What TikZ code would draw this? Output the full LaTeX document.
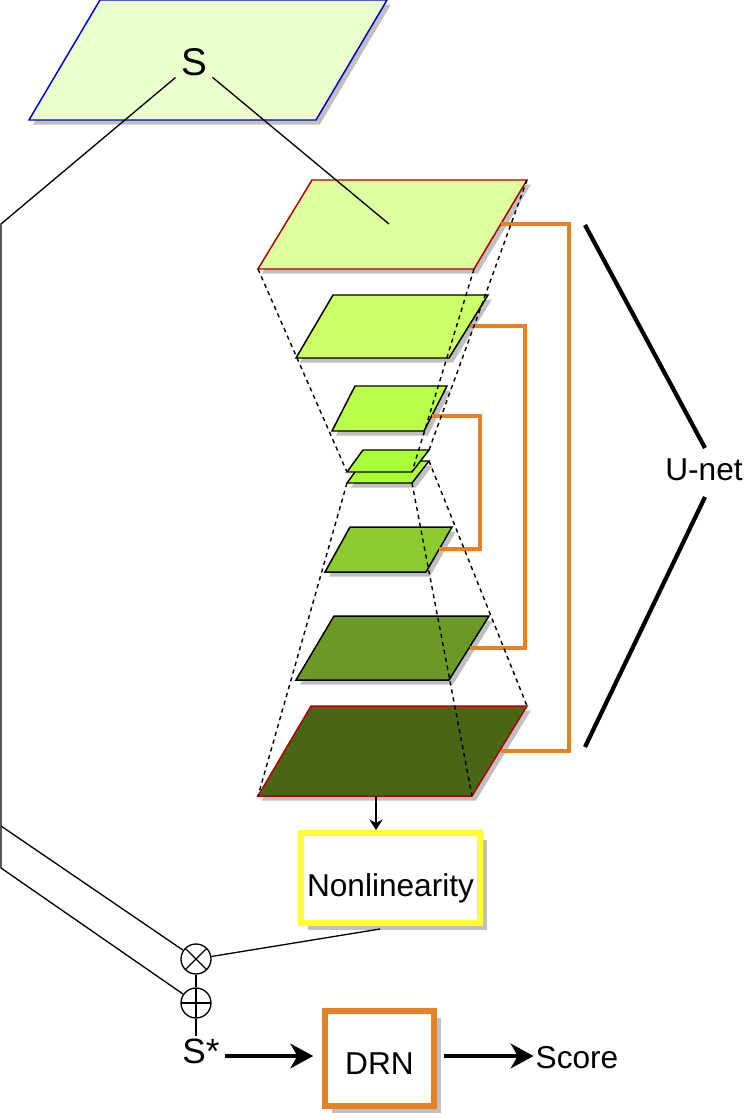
\documentclass[tikz,border=0pt]{standalone}
\usepackage{fontspec}
\setmainfont{Liberation Sans}
\usetikzlibrary{arrows.meta,positioning,calc,shadows}
\definecolor{skinorange}{HTML}{E68225}
\definecolor{boxyellow}{HTML}{FFFF33}
\definecolor{edgered}{HTML}{B20000}
\definecolor{edgeblue}{HTML}{0000CC}
\definecolor{shadowgray}{HTML}{C0C0C0}
\tikzset{
  softshadow/.style={drop shadow={shadow xshift=2.2pt,shadow yshift=-2.6pt,fill=shadowgray,opacity=1}},
  boxshadow/.style={drop shadow={shadow xshift=3.8pt,shadow yshift=-4pt,fill=shadowgray,opacity=1}},
  flatlayer/.style={draw=black,line width=0.85pt,line join=miter},
  layer/.style={flatlayer,softshadow},
  dashline/.style={line width=0.8pt,dash pattern=on 2.4pt off 2.2pt},
  skipline/.style={draw=skinorange,line width=2.6pt},
  braceline/.style={line width=2.4pt},
  thinline/.style={line width=0.75pt},
  bigarrow/.style={line width=2.6pt,-{Stealth[length=13pt,width=14pt,inset=4pt]}},
  opbox/.style={draw,fill=white,line width=3.4pt,boxshadow,font=\fontsize{18}{20}\selectfont},
  plainlabel/.style={inner sep=1pt,font=\fontsize{18}{20}\selectfont},
  bigletter/.style={inner sep=3pt,font=\fontsize{22}{24}\selectfont},
  opcircle/.style={circle,draw,line width=0.75pt,minimum size=0.6cm,inner sep=0pt}
}
\begin{document}
\begin{tikzpicture}[x=0.02cm,y=-0.02cm]
  \useasboundingbox (0,0) rectangle (750,1118);
  \draw[layer,draw=edgeblue,fill={rgb,255:red,235;green,255;blue,204}] (100,0) -- (387,0) -- (316,120) -- (29,120) -- cycle;
  \draw[layer,draw=edgered,fill={rgb,255:red,221;green,255;blue,159}] (312,180) -- (527,180) coordinate (c1) -- (474,269) coordinate (b1) -- (258,269) coordinate (a1) -- cycle;
  \draw[layer,fill={rgb,255:red,204;green,255;blue,102}] (333,295) -- (488,295) -- (449,358) -- (296,358) -- cycle;
  \draw[layer,fill={rgb,255:red,185;green,255;blue,76}] (355,386) -- (447,386) -- (424,431) -- (332,431) -- cycle;
  \draw[layer,fill={rgb,255:red,171;green,255;blue,54}] (363,461) -- (429,461) coordinate (c4) -- (412,483) coordinate (b4) -- (347,483) coordinate (a4) -- cycle;
  \draw[flatlayer,fill={rgb,255:red,171;green,255;blue,54}] (363,450) -- (429,450) coordinate (c5) -- (412,472) coordinate (b5) -- (347,472) coordinate (a5) -- cycle;
  \draw[layer,fill={rgb,255:red,140;green,204;blue,46}] (350,527) -- (452,527) -- (426,572) -- (325,572) -- cycle;
  \draw[layer,fill={rgb,255:red,108;green,153;blue,38}] (334,616) -- (489,616) -- (449,680) -- (296,680) -- cycle;
  \draw[layer,draw=edgered,fill={rgb,255:red,74;green,102;blue,21}] (311,706) -- (527,706) coordinate (c8) -- (472,796) coordinate (b8) -- (258,796) coordinate (a8) -- cycle;

  \coordinate (e1) at (501,224); \coordinate (e2) at (470,326); \coordinate (e3) at (432,416);
  \coordinate (e6) at (439,549); \coordinate (e7) at (470,648); \coordinate (e8) at (501,751);
  \draw[skipline] (e1) -- (569,224) -- (569,751) -- (e8);
  \draw[skipline] (e2) -- (525,326) -- (525,648) -- (e7);
  \draw[skipline] (e3) -- (480,416) -- (480,549) -- (e6);

  \draw[dashline] (a1) -- (a5); \draw[dashline] (b1) -- (b5); \draw[dashline] (c1) -- (c5);
  \draw[dashline] (a4) -- (a8); \draw[dashline] (b4) -- (b8); \draw[dashline] (c4) -- (c8);

  \node[bigletter] (S) at (194,62) {S};
  \coordinate (deep) at (389,224);
  \coordinate (bendtop) at (1,224); \coordinate (bendmid) at (1,826); \coordinate (bendlow) at (1,868);
  \node[opcircle,path picture={
    \draw[thinline] (path picture bounding box.north west) -- (path picture bounding box.south east);
    \draw[thinline] (path picture bounding box.north east) -- (path picture bounding box.south west);}] (times) at (196,959) {};
  \node[opcircle,path picture={
    \draw[thinline] (path picture bounding box.north) -- (path picture bounding box.south);
    \draw[thinline] (path picture bounding box.west) -- (path picture bounding box.east);}] (plus) at (196,1003) {};
  \node[plainlabel,font=\fontsize{20}{24}\selectfont] (sstar) at (201,1051) {S*};
  \node[opbox,draw=boxyellow,minimum width=3.58cm,minimum height=1.8cm] (nonlin) at (390.5,878) {\smash{\raisebox{-10.5pt}{Nonlinearity}}};
  \node[opbox,draw=skinorange,minimum width=2.18cm,minimum height=1.9cm] (drn) at (379.5,1058.5) {\smash{\raisebox{-9pt}{DRN}}};
  \node[plainlabel] (score) at (577,1058) {Score};
  \node[plainlabel] (unet) at (704,470) {U-net};

  \draw[thinline] (S) -- (deep);
  \draw[thinline] (S) -- (bendtop) -- (bendlow) -- (plus);
  \draw[thinline] (bendmid) -- (times);
  \draw[thinline] (times) -- (plus);
  \draw[thinline] (plus.south) -- (plus.south |- sstar.north);
  \coordinate (nonout) at (380,929);
  \draw[thinline] (nonout) -- (times);
  \coordinate (layerout) at (376,796);
  \draw[thinline,-{Stealth[length=6pt,width=7.5pt,inset=2pt]}] (layerout) -- (layerout |- nonlin.north);
  \coordinate (starout) at (225,1056); \coordinate (drnout) at (444,1056);
  \draw[bigarrow,shorten >=5pt] (starout) -- (starout -| drn.west);
  \draw[bigarrow] (drnout) -- (drnout -| score.west);
  \coordinate (ua) at (585,225); \coordinate (ub) at (585,747);
  \coordinate (uc) at (705,448); \coordinate (ud) at (705,497);
  \draw[braceline] (ua) -- (uc);
  \draw[braceline] (ud) -- (ub);
\end{tikzpicture}
\end{document}
